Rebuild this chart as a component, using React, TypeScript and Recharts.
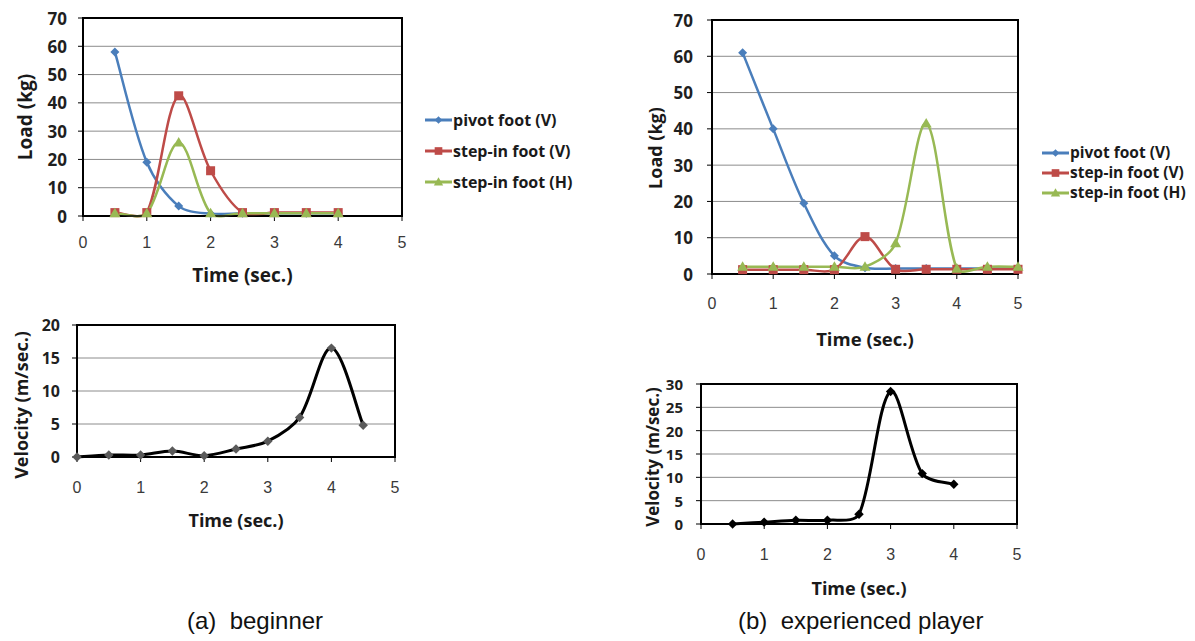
import React from 'react';
import { LineChart, Line, XAxis, YAxis, CartesianGrid, Legend, ReferenceArea } from 'recharts';

// ---------- data ----------
const loadTimesBeginner = [0.5, 1, 1.5, 2, 2.5, 3, 3.5, 4];
const beginnerPivotV = [58, 19, 3.5, 0.8, 1, 1, 1, 1];
const beginnerStepInV = [1.2, 1.2, 42.5, 16, 1.2, 1.2, 1.2, 1.2];
const beginnerStepInH = [1, 1, 26, 1, 1, 1, 1, 1];

const loadTimesExpert = [0.5, 1, 1.5, 2, 2.5, 3, 3.5, 4, 4.5, 5];
const expertPivotV = [61, 40, 19.5, 5, 1.7, 1.5, 1.5, 1.5, 1.5, 1.5];
const expertStepInV = [1.2, 1.2, 1.2, 1.2, 10.3, 1.3, 1.3, 1.3, 1.3, 1.3];
const expertStepInH = [2, 2, 2, 2, 2, 8.5, 41.5, 1.5, 2, 2];

const velTimesBeginner = [0, 0.5, 1, 1.5, 2, 2.5, 3, 3.5, 4, 4.5];
const velBeginner = [0, 0.3, 0.3, 0.9, 0.2, 1.2, 2.4, 6.0, 16.5, 4.8];

const velTimesExpert = [0.5, 1, 1.5, 2, 2.5, 3, 3.5, 4];
const velExpert = [0, 0.4, 0.8, 0.8, 2.1, 28.4, 10.8, 8.5];

const timeTicks = [0, 1, 2, 3, 4, 5];
const loadTicks = [0, 10, 20, 30, 40, 50, 60, 70];
const velTicksBeginner = [0, 5, 10, 15, 20];
const velTicksExpert = [0, 5, 10, 15, 20, 25, 30];

const seriesOrder = ['pivotV', 'stepV', 'stepH'];
const seriesNames = {
  pivotV: 'pivot foot (V)',
  stepV: 'step-in foot (V)',
  stepH: 'step-in foot (H)',
};
const captionA = '(a)  beginner';
const captionB = '(b)  experienced player';

// ---------- tables ----------
const loadBeginnerData = loadTimesBeginner.map((t, i) => ({
  t,
  pivotV: beginnerPivotV[i],
  stepV: beginnerStepInV[i],
  stepH: beginnerStepInH[i],
}));
const loadExpertData = loadTimesExpert.map((t, i) => ({
  t,
  pivotV: expertPivotV[i],
  stepV: expertStepInV[i],
  stepH: expertStepInH[i],
}));
const velBeginnerData = velTimesBeginner.map((t, i) => ({ t, v: velBeginner[i] }));
const velExpertData = velTimesExpert.map((t, i) => ({ t, v: velExpert[i] }));

// ---------- styles ----------
const BLUE = '#4a7ebb';
const RED = '#be4b48';
const GREEN = '#98b954';
const LABEL_FONT = '"Open Sans", "Noto Sans", sans-serif';
const TICK_FONT = '"Liberation Sans", Arial, sans-serif';

// Excel-like smoothed line (Bezier with chord-length scaled tangents)
const excelSmooth: any = (context: any) => {
  let pts: number[][] = [];
  const dist = (a: number[], b: number[]) => Math.hypot(a[0] - b[0], a[1] - b[1]);
  return {
    areaStart() {},
    areaEnd() {},
    lineStart() {
      pts = [];
    },
    point(x: number, y: number) {
      pts.push([+x, +y]);
    },
    lineEnd() {
      if (!pts.length) return;
      context.moveTo(pts[0][0], pts[0][1]);
      const f = 1 / 6;
      for (let i = 0; i < pts.length - 1; i++) {
        const p0 = pts[i - 1] || pts[i];
        const p1 = pts[i];
        const p2 = pts[i + 1];
        const p3 = pts[i + 2] || p2;
        const d01 = dist(p0, p1);
        const d12 = dist(p1, p2);
        const d23 = dist(p2, p3);
        const k1 = d01 + d12 > 0 ? (2 * d12) / (d01 + d12) : 1;
        const k2 = d12 + d23 > 0 ? (2 * d12) / (d12 + d23) : 1;
        const s1 = Math.min(k1, 1.2) * f;
        const s2 = Math.min(k2, 1.2) * f;
        context.bezierCurveTo(
          p1[0] + (p2[0] - p0[0]) * s1,
          p1[1] + (p2[1] - p0[1]) * s1,
          p2[0] - (p3[0] - p1[0]) * s2,
          p2[1] - (p3[1] - p1[1]) * s2,
          p2[0],
          p2[1]
        );
      }
    },
  };
};

const Marker = ({ shape, cx, cy, fill, s = 1 }: any) => {
  if (cx == null || cy == null) return null;
  if (shape === 'square') {
    const h = 4.5 * s;
    return <rect x={cx - h} y={cy - h} width={2 * h} height={2 * h} fill={fill} />;
  }
  if (shape === 'triangle') {
    const r = 5.5 * s;
    return (
      <polygon
        points={`${cx},${cy - r} ${cx + r},${cy + r * 0.75} ${cx - r},${cy + r * 0.75}`}
        fill={fill}
      />
    );
  }
  const r = 4.5 * s;
  return (
    <polygon points={`${cx},${cy - r} ${cx + r},${cy} ${cx},${cy + r} ${cx - r},${cy}`} fill={fill} />
  );
};

const dotOf = (shape: string, fill: string, s = 1) => (p: any) => (
  <Marker key={`d-${p.index}-${shape}`} shape={shape} cx={p.cx} cy={p.cy} fill={fill} s={s} />
);

const shapeOf: Record<string, string> = { pivotV: 'diamond', stepV: 'square', stepH: 'triangle' };

const makeLegend = (rowHeight: number, fontSize: number) => (props: any) => {
  const payload = [...(props.payload || [])].sort(
    (a: any, b: any) => seriesOrder.indexOf(a.dataKey) - seriesOrder.indexOf(b.dataKey)
  );
  return (
    <div>
      {payload.map((e: any) => (
        <div
          key={e.dataKey}
          style={{ display: 'flex', alignItems: 'center', height: rowHeight, whiteSpace: 'nowrap' }}
        >
          <svg width={27} height={14} style={{ marginRight: 1 }}>
            <line x1={0} y1={7} x2={27} y2={7} stroke={e.color} strokeWidth={3} />
            <Marker shape={shapeOf[e.dataKey]} cx={13.5} cy={7} fill={e.color} s={0.85} />
          </svg>
          <span
            style={{
              fontFamily: LABEL_FONT,
              fontWeight: 700,
              fontSize,
              color: '#1a1a1a',
              lineHeight: `${fontSize}px`,
            }}
          >
            {e.value}
          </span>
        </div>
      ))}
    </div>
  );
};

const xTick = (dy: number) => (p: any) => (
  <text
    x={p.x}
    y={p.y + dy}
    textAnchor="middle"
    dominantBaseline="central"
    fontFamily={TICK_FONT}
    fontSize={16}
    fill="#3a3a3a"
  >
    {p.payload.value}
  </text>
);

const yTick = (size: number) => (p: any) => (
  <text
    x={p.x}
    y={p.y}
    textAnchor="end"
    dominantBaseline="central"
    fontFamily={LABEL_FONT}
    fontWeight={700}
    fontSize={size}
    fill="#1f1f1f"
  >
    {p.payload.value}
  </text>
);

const xTitle = (text: string, dy: number, size: number) => (p: any) => {
  const vb = p.viewBox || { x: 0, y: 0, width: 0 };
  return (
    <text
      x={vb.x + vb.width / 2}
      y={vb.y + dy}
      textAnchor="middle"
      dominantBaseline="central"
      fontFamily={LABEL_FONT}
      fontWeight={700}
      fontSize={size}
      fill="#1a1a1a"
    >
      {text}
    </text>
  );
};

const yTitle = (text: string, x: number, dy: number, size: number) => (p: any) => {
  const vb = p.viewBox || { x: 0, y: 0, height: 0 };
  const cy = vb.y + vb.height / 2 + dy;
  return (
    <text
      x={x}
      y={cy}
      transform={`rotate(-90, ${x}, ${cy})`}
      textAnchor="middle"
      dominantBaseline="central"
      fontFamily={LABEL_FONT}
      fontWeight={700}
      fontSize={size}
      fill="#1a1a1a"
    >
      {text}
    </text>
  );
};

const AXIS = { stroke: '#000', strokeWidth: 1.5 };

type FrameProps = {
  yTicks: number[];
  yMax: number;
  yAxisWidth: number;
  xAxisHeight: number;
  yTickGap: number;
  yTickSize: number;
  xTickDy: number;
  xTitleText: string;
  xTitleDy: number;
  xTitleSize: number;
  yTitleText: string;
  yTitleX: number;
  yTitleDy: number;
  yTitleSize: number;
};

const frame = (f: FrameProps) => [
  <CartesianGrid key="g" vertical={false} horizontal stroke="#8c8c8c" strokeWidth={1} />,
  <XAxis
    key="x"
    dataKey="t"
    type="number"
    domain={[0, 5]}
    ticks={timeTicks}
    interval={0}
    height={f.xAxisHeight}
    axisLine={AXIS}
    tickLine={{ stroke: '#000', strokeWidth: 1 }}
    tickSize={5}
    tickMargin={0}
    tick={xTick(f.xTickDy - 5)}
    label={{ content: xTitle(f.xTitleText, f.xTitleDy, f.xTitleSize) } as any}
  />,
  <YAxis
    key="y"
    type="number"
    domain={[0, f.yMax]}
    ticks={f.yTicks}
    interval={0}
    width={f.yAxisWidth}
    axisLine={AXIS}
    tickLine={{ stroke: '#000', strokeWidth: 1 }}
    tickSize={5}
    tickMargin={f.yTickGap - 5}
    tick={yTick(f.yTickSize)}
    label={{ content: yTitle(f.yTitleText, f.yTitleX, f.yTitleDy, f.yTitleSize) } as any}
  />,
];

const border = (yMax: number) => (
  <ReferenceArea
    x1={0}
    x2={5}
    y1={0}
    y2={yMax}
    fill="none"
    fillOpacity={0}
    stroke="#000"
    strokeWidth={2}
    ifOverflow="visible"
  />
);

const loadLines = () => [
  <Line
    key="pivotV"
    dataKey="pivotV"
    name={seriesNames.pivotV}
    stroke={BLUE}
    strokeWidth={2.5}
    type={excelSmooth}
    dot={dotOf('diamond', BLUE)}
    activeDot={false}
    isAnimationActive={false}
  />,
  <Line
    key="stepV"
    dataKey="stepV"
    name={seriesNames.stepV}
    stroke={RED}
    strokeWidth={2.5}
    type={excelSmooth}
    dot={dotOf('square', RED)}
    activeDot={false}
    isAnimationActive={false}
  />,
  <Line
    key="stepH"
    dataKey="stepH"
    name={seriesNames.stepH}
    stroke={GREEN}
    strokeWidth={2.5}
    type={excelSmooth}
    dot={dotOf('triangle', GREEN)}
    activeDot={false}
    isAnimationActive={false}
  />,
];

const abs = (left: number, top: number): React.CSSProperties => ({ position: 'absolute', left, top });

const captionStyle: React.CSSProperties = {
  fontFamily: '"Liberation Sans Narrow", "Liberation Sans", Arial, sans-serif',
  fontSize: 24,
  whiteSpace: 'pre',
  color: '#111',
  lineHeight: '28px',
};

export default function App() {
  return (
    <div
      style={{
        position: 'absolute',
        left: 0,
        top: 0,
        width: 1195,
        height: 641,
        background: '#fff',
        overflow: 'hidden',
      }}
    >
      {/* (a) load */}
      <div style={abs(0, 0)}>
        <LineChart width={600} height={300} data={loadBeginnerData} margin={{ top: 18, right: 198, bottom: 0, left: 0 }}>
          {frame({
            yTicks: loadTicks,
            yMax: 70,
            yAxisWidth: 83,
            xAxisHeight: 84,
            yTickGap: 16,
            yTickSize: 17,
            xTickDy: 26,
            xTitleText: 'Time  (sec.)',
            xTitleDy: 59,
            xTitleSize: 19,
            yTitleText: 'Load  (kg)',
            yTitleX: 25,
            yTitleDy: 0,
            yTitleSize: 19,
          })}
          {loadLines()}
          {border(70)}
          <Legend
            layout="vertical"
            align="center"
            verticalAlign="middle"
            content={makeLegend(31, 16)}
            wrapperStyle={{ position: 'absolute', left: 425, top: 104, width: 175 }}
          />
        </LineChart>
      </div>

      {/* (a) velocity */}
      <div style={abs(0, 300)}>
        <LineChart width={420} height={250} data={velBeginnerData} margin={{ top: 25, right: 25, bottom: 0, left: 0 }}>
          {frame({
            yTicks: velTicksBeginner,
            yMax: 20,
            yAxisWidth: 77,
            xAxisHeight: 93,
            yTickGap: 17,
            yTickSize: 16,
            xTickDy: 30,
            xTitleText: 'Time (sec.)',
            xTitleDy: 63,
            xTitleSize: 18,
            yTitleText: 'Velocity (m/sec.)',
            yTitleX: 21,
            yTitleDy: 14,
            yTitleSize: 18,
          })}
          <Line
            dataKey="v"
            stroke="#000"
            strokeWidth={3}
            type={excelSmooth}
            dot={dotOf('diamond', '#5a5a5a', 1.05)}
            activeDot={false}
            isAnimationActive={false}
          />
          {border(20)}
        </LineChart>
      </div>

      {/* (b) load */}
      <div style={abs(620, 0)}>
        <LineChart width={575} height={360} data={loadExpertData} margin={{ top: 20, right: 177, bottom: 0, left: 0 }}>
          {frame({
            yTicks: loadTicks,
            yMax: 70,
            yAxisWidth: 92,
            xAxisHeight: 86,
            yTickGap: 19,
            yTickSize: 17,
            xTickDy: 29,
            xTitleText: 'Time (sec.)',
            xTitleDy: 64,
            xTitleSize: 18.5,
            yTitleText: 'Load  (kg)',
            yTitleX: 35,
            yTitleDy: 1,
            yTitleSize: 18,
          })}
          {loadLines()}
          {border(70)}
          <Legend
            layout="vertical"
            align="center"
            verticalAlign="middle"
            content={makeLegend(20, 15.5)}
            wrapperStyle={{ position: 'absolute', left: 422, top: 143, width: 160 }}
          />
        </LineChart>
      </div>

      {/* (b) velocity */}
      <div style={abs(620, 360)}>
        <LineChart width={420} height={250} data={velExpertData} margin={{ top: 24, right: 23, bottom: 0, left: 0 }}>
          {frame({
            yTicks: velTicksExpert,
            yMax: 30,
            yAxisWidth: 81,
            xAxisHeight: 86,
            yTickGap: 18,
            yTickSize: 15,
            xTickDy: 30,
            xTitleText: 'Time (sec.)',
            xTitleDy: 64,
            xTitleSize: 18,
            yTitleText: 'Velocity (m/sec.)',
            yTitleX: 32,
            yTitleDy: 3,
            yTitleSize: 17,
          })}
          <Line
            dataKey="v"
            stroke="#000"
            strokeWidth={3}
            type={excelSmooth}
            dot={dotOf('diamond', '#000', 1.05)}
            activeDot={false}
            isAnimationActive={false}
          />
          {border(30)}
        </LineChart>
      </div>

      {/* captions */}
      <div style={{ ...abs(187, 607), ...captionStyle }}>{captionA}</div>
      <div style={{ ...abs(738, 607), ...captionStyle }}>{captionB}</div>
    </div>
  );
}
